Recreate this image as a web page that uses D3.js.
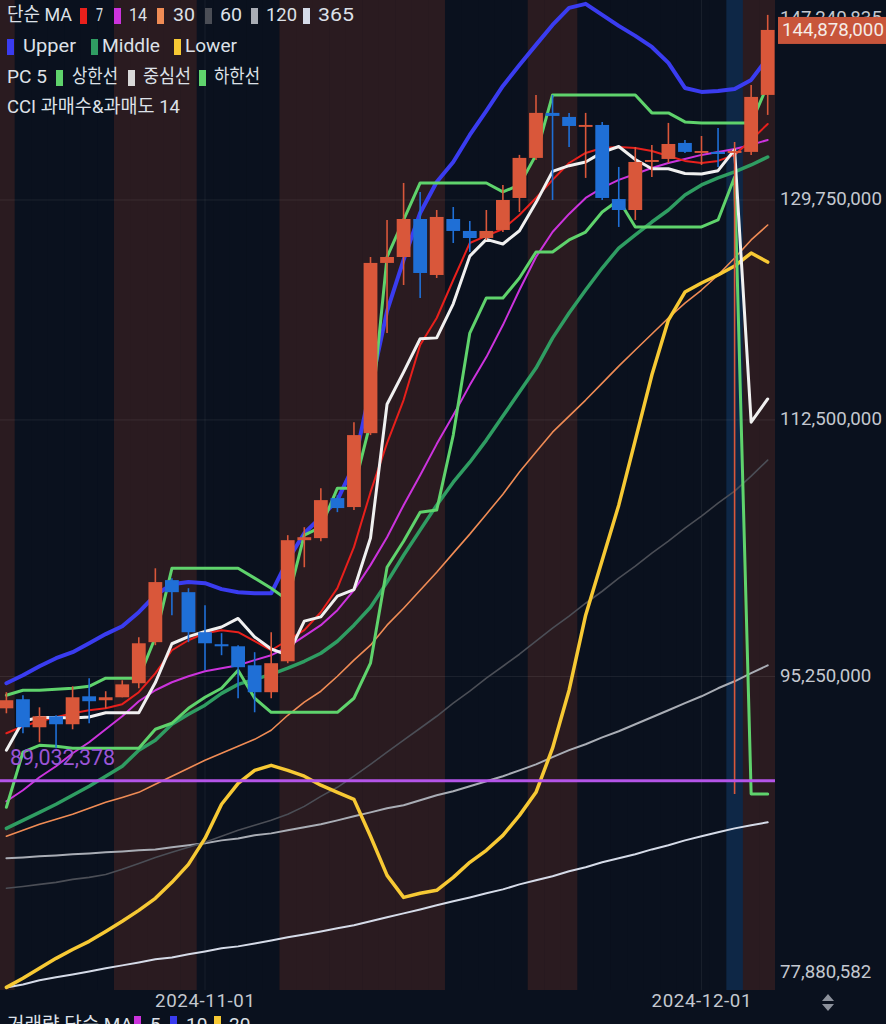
<!DOCTYPE html>
<html><head><meta charset="utf-8">
<script src="https://cdn.jsdelivr.net/npm/d3@7"></script>
<style>
html,body{margin:0;padding:0;background:#0a111e;}
svg{display:block;}
text{font-family:Roboto,"Noto Sans CJK KR",sans-serif;}
</style></head><body>
<svg id="c" width="886" height="1024"></svg>
<script>
// ---- data (prices in millions of KRW) ----
const dates = ["2024-10-20","2024-10-21","2024-10-22","2024-10-23","2024-10-24","2024-10-25","2024-10-26","2024-10-27","2024-10-28","2024-10-29","2024-10-30","2024-10-31","2024-11-01","2024-11-02","2024-11-03","2024-11-04","2024-11-05","2024-11-06","2024-11-07","2024-11-08","2024-11-09","2024-11-10","2024-11-11","2024-11-12","2024-11-13","2024-11-14","2024-11-15","2024-11-16","2024-11-17","2024-11-18","2024-11-19","2024-11-20","2024-11-21","2024-11-22","2024-11-23","2024-11-24","2024-11-25","2024-11-26","2024-11-27","2024-11-28","2024-11-29","2024-11-30","2024-12-01","2024-12-02","2024-12-03","2024-12-04","2024-12-05"];
const open  = [93.31,93.86,92.17,92.83,92.35,94.04,93.80,93.98,94.84,97.40,101.40,100.61,98.03,97.27,97.14,95.95,94.29,96.20,104.06,104.20,106.94,106.32,111.54,124.56,125.04,128.16,123.59,128.16,127.17,126.59,127.25,129.92,133.34,137.29,136.93,136.05,136.22,129.83,128.91,132.99,133.25,134.64,133.77,133.86,133.77,133.86,138.90];
const high  = [94.29,94.10,93.37,92.89,94.65,95.15,94.35,95.02,97.71,102.18,101.53,100.87,99.76,97.97,97.21,96.77,98.03,104.40,104.94,107.63,107.14,112.34,125.04,128.08,131.19,130.43,128.91,129.16,128.00,128.91,131.02,133.60,138.90,138.90,137.29,137.29,136.49,132.56,134.29,134.47,136.40,134.90,135.25,135.96,134.73,139.80,146.30];
const low   = [93.01,91.81,91.28,90.93,92.05,92.41,93.31,93.98,94.53,97.21,99.12,97.40,95.64,96.58,93.92,93.07,93.92,96.08,102.25,103.99,105.97,106.11,111.40,119.02,122.79,121.76,123.35,126.18,125.45,126.43,127.08,128.74,133.16,129.75,134.29,131.62,129.75,127.50,128.08,131.70,132.90,133.77,132.73,132.56,88.27,133.60,137.11];
const close = [93.80,92.17,92.83,92.35,93.98,93.74,93.98,94.77,97.33,101.27,100.61,98.03,97.33,97.14,95.83,94.29,96.08,104.06,104.26,106.80,106.25,111.40,124.56,125.04,128.16,123.75,128.33,127.17,126.59,127.17,129.75,133.34,137.29,137.02,136.13,136.22,129.92,128.91,132.99,133.16,134.55,133.86,133.94,133.68,133.94,138.72,144.878];

const ma7   = [91.81,92.23,92.53,92.77,93.01,93.19,93.31,93.56,94.29,95.45,96.89,97.52,97.97,98.16,98.03,97.46,96.89,97.52,98.16,99.31,100.87,103.59,107.35,110.82,113.96,118.10,120.19,123.19,126.18,126.76,127.33,128.49,129.92,131.45,132.90,133.77,134.20,134.29,134.20,133.94,133.51,133.08,132.90,133.08,133.60,134.90,136.31];
const ma14  = [87.85,88.48,89.23,89.87,90.63,91.28,92.05,92.83,93.74,94.41,94.90,95.27,95.58,95.77,95.95,96.27,96.58,97.08,97.78,98.48,99.44,100.74,102.39,104.26,106.45,108.54,110.75,112.85,115.07,117.18,119.64,122.39,125.04,127.08,128.58,129.92,130.77,131.45,131.96,132.47,132.90,133.25,133.60,133.86,134.12,134.47,134.90];
const ma30  = [85.88,86.21,86.55,86.83,87.11,87.45,87.79,88.07,88.36,88.82,89.29,89.75,90.22,90.63,91.04,91.45,91.99,92.89,93.68,94.35,95.27,96.27,97.21,98.48,99.57,100.74,101.92,103.19,104.47,105.83,107.21,108.76,110.18,111.61,112.78,113.96,115.22,116.50,117.72,118.95,120.19,121.36,122.39,123.59,124.96,126.43,127.66];
const ma60  = [83.03,83.13,83.24,83.35,83.51,83.62,83.78,84.06,84.38,84.71,84.99,85.27,85.54,85.88,86.21,86.49,86.77,87.11,87.56,88.13,88.65,89.29,89.98,90.69,91.40,92.11,92.83,93.62,94.35,95.15,95.89,96.64,97.46,98.29,99.06,99.89,100.67,101.53,102.32,103.19,103.99,104.87,105.69,106.59,107.42,108.47,109.61];
const ma120 = [84.66,84.71,84.77,84.82,84.88,84.93,84.99,85.04,85.10,85.15,85.27,85.38,85.49,85.65,85.76,85.93,86.04,86.21,86.38,86.55,86.77,87.00,87.22,87.45,87.62,87.91,88.19,88.42,88.71,89.00,89.29,89.63,89.98,90.40,90.81,91.16,91.57,91.93,92.35,92.77,93.19,93.62,94.04,94.53,94.96,95.46,95.95];
const ma365 = [77.86,78.01,78.22,78.37,78.52,78.67,78.83,78.98,79.13,79.29,79.39,79.55,79.70,79.86,79.96,80.11,80.27,80.43,80.58,80.74,80.90,81.06,81.27,81.48,81.69,81.90,82.12,82.33,82.54,82.76,82.97,83.24,83.46,83.68,83.95,84.17,84.44,84.66,84.88,85.15,85.38,85.65,85.88,86.10,86.32,86.49,86.66];

const bbUpper  = [94.84,95.33,95.89,96.39,96.77,97.33,97.91,98.41,99.31,100.41,101.13,101.27,101.20,100.81,100.61,100.54,100.54,102.72,104.53,105.63,106.80,109.25,114.85,120.73,124.80,128.66,131.27,132.99,135.34,137.46,139.71,141.63,143.48,145.35,146.97,147.35,146.30,145.26,144.32,143.29,141.82,139.53,139.17,139.26,139.44,140.26,142.27];
const bbMiddle = [86.32,86.77,87.22,87.68,88.19,88.71,89.29,89.87,90.81,91.40,92.35,92.95,93.50,94.22,94.77,95.08,95.39,95.77,96.20,96.70,97.46,98.48,99.63,101.27,103.05,104.74,106.45,108.05,109.46,111.04,112.78,114.55,116.35,118.63,120.58,122.39,124.15,125.77,126.84,127.91,128.91,130.17,131.02,131.62,132.13,132.73,133.42];
const bbLower  = [77.86,78.32,78.83,79.34,79.80,80.22,80.74,81.27,81.85,82.49,83.35,84.33,85.76,87.68,88.88,89.63,89.92,89.63,89.29,88.77,88.36,87.96,85.88,83.73,82.54,82.76,82.92,83.62,84.44,85.10,85.93,87.05,88.36,90.93,94.41,99.12,102.72,106.45,111.04,115.82,120.03,122.23,122.95,123.59,124.31,125.36,124.63];

const pcUpper  = [94.10,94.41,94.41,94.47,94.53,94.65,95.15,95.15,95.15,97.71,102.18,102.18,102.18,102.18,102.18,101.53,100.87,100.09,104.40,104.94,107.63,107.63,112.34,125.04,128.08,131.19,131.19,131.19,131.19,131.19,130.43,131.02,133.60,138.90,138.90,138.90,138.90,138.90,138.90,137.29,137.29,136.49,136.40,136.40,136.40,136.40,139.80];
const pcMiddle = [90.81,92.55,92.76,92.76,92.73,92.79,93.04,93.04,93.04,94.88,97.30,97.75,98.08,98.36,98.91,97.73,96.97,96.58,98.74,99.01,100.35,100.78,104.21,113.65,116.04,118.58,118.65,121.30,125.11,126.48,126.10,127.19,129.53,132.18,132.67,132.99,133.82,134.33,133.20,132.40,132.40,132.00,131.95,132.24,134.05,112.34,114.04];
const pcLower  = [87.51,90.69,91.10,91.04,90.93,90.93,90.93,90.93,90.93,92.05,92.41,93.31,93.98,94.53,95.64,93.92,93.07,93.07,93.07,93.07,93.07,93.92,96.08,102.25,103.99,105.97,106.11,111.40,119.02,121.76,121.76,123.35,125.45,125.45,126.43,127.08,128.74,129.75,127.50,127.50,127.50,127.50,127.50,128.08,131.70,88.27,88.27];

// CCI(14) state per candle: ob = overbought, os = oversold, n = neutral
const cciZone = ["ob","n","n","n","n","n","n","ob","ob","ob","ob","ob","n","n","n","n","n","ob","ob","ob","ob","ob","ob","ob","ob","ob","ob","n","n","n","n","n","ob","ob","ob","n","n","n","n","n","n","n","n","n","os","ob","ob"];

const yTicks = [147240835, 129750000, 112500000, 95250000, 77880582];
const xTickLabels = ["2024-11-01", "2024-12-01"];
const lastPrice = 144878000;
const markLine = 89032378;

// ---- layout ----
const M = 1e6;
const W = 886, H = 1024, plotR = 775, plotB = 990;
const parse = d3.utcParse("%Y-%m-%d");
const D = dates.map(parse);
const x = d3.scaleUtc().domain([D[0], D[D.length-1]]).range([6.4, 767.7]);
const step = x(D[1]) - x(D[0]);
const y = d3.scaleLog().domain([yTicks[4], yTicks[0]]).range([987, 5]);
const fmt = d3.format(",");
const axisFont = 18.7;

const svg = d3.select("#c");
svg.append("rect").attr("width", W).attr("height", H).attr("fill", "#0a111e");
const defs = svg.append("defs");
defs.append("clipPath").attr("id","plot").append("rect").attr("x",0).attr("y",0).attr("width",plotR).attr("height",plotB);
const g = svg.append("g").attr("clip-path","url(#plot)");

// CCI background stripes
const zoneCol = {ob:"#2a1b20", n:"#0a111e", os:"#0e2746"};
g.selectAll("rect.z").data(cciZone).join("rect").attr("class","z")
  .attr("x",(d,i)=>x(D[i])-step/2).attr("y",0).attr("width",step+0.5).attr("height",plotB)
  .attr("fill",d=>zoneCol[d]);

// grid
g.selectAll("line.hg").data(yTicks.slice(1,4)).join("line").attr("class","hg")
  .attr("x1",0).attr("x2",plotR).attr("y1",d=>y(d)).attr("y2",d=>y(d))
  .attr("stroke","#ffffff").attr("stroke-opacity",0.08).attr("stroke-width",1);
g.selectAll("line.vg").data(xTickLabels).join("line").attr("class","vg")
  .attr("x1",d=>x(parse(d))).attr("x2",d=>x(parse(d))).attr("y1",0).attr("y2",plotB)
  .attr("stroke","#ffffff").attr("stroke-opacity",0.06).attr("stroke-width",1);

// indicator lines
const line = d3.line().x((d,i)=>x(D[i])).y(d=>y(d*M));
const series = [
  {v:ma365, c:"#d5dbe8", w:2},
  {v:ma120, c:"#a9adb5", w:2},
  {v:ma60,  c:"#4b4e56", w:1.6},
  {v:ma30,  c:"#f08c55", w:1.6},
  {v:ma14,  c:"#cc33dd", w:2},
  {v:ma7,   c:"#e8201c", w:2},
  {v:bbLower,  c:"#f7c934", w:3.5},
  {v:bbMiddle, c:"#2f9d62", w:3.5},
  {v:bbUpper,  c:"#3a3cf0", w:4},
  {v:pcLower,  c:"#5fd36c", w:3},
  {v:pcUpper,  c:"#5fd36c", w:3},
  {v:pcMiddle, c:"#f0f0f0", w:3}
];
g.selectAll("path.s").data(series).join("path").attr("class","s")
  .attr("d",d=>line(d.v)).attr("fill","none").attr("stroke",d=>d.c)
  .attr("stroke-width",d=>d.w).attr("stroke-linejoin","round").attr("stroke-linecap","round");

// candles
const upC = "#d9573a", dnC = "#1f6fd6";
const cg = g.selectAll("g.cd").data(D).join("g").attr("class","cd");
cg.append("line").attr("x1",(d,i)=>x(d)).attr("x2",(d,i)=>x(d))
  .attr("y1",(d,i)=>y(high[i]*M)).attr("y2",(d,i)=>y(low[i]*M))
  .attr("stroke",(d,i)=>close[i]>=open[i]?upC:dnC).attr("stroke-width",1.6);
cg.append("rect").attr("x",d=>x(d)-6.9).attr("width",13.8)
  .attr("y",(d,i)=>y(Math.max(open[i],close[i])*M))
  .attr("height",(d,i)=>Math.max(1.6, Math.abs(y(open[i]*M)-y(close[i]*M))))
  .attr("fill",(d,i)=>close[i]>=open[i]?upC:dnC);

// horizontal mark line
g.append("line").attr("x1",0).attr("x2",plotR).attr("y1",y(markLine)).attr("y2",y(markLine))
  .attr("stroke","#b455e8").attr("stroke-width",3);
g.append("text").attr("x",10).attr("y",y(markLine)-21).attr("fill","#9b55d6")
  .attr("font-size",21.5).attr("dominant-baseline","middle").text(fmt(markLine));

// right axis
svg.selectAll("text.yt").data(yTicks).join("text").attr("class","yt")
  .attr("x",780).attr("y",d=>Math.min(973, Math.max(19, y(d))))
  .attr("dominant-baseline","middle").attr("font-size",axisFont).attr("fill","#c4c8d0")
  .text(d=>fmt(d));
svg.append("rect").attr("x",778).attr("y",y(lastPrice)-13).attr("width",108).attr("height",27).attr("fill","#c8553b");
svg.append("text").attr("x",782).attr("y",y(lastPrice)+1).attr("dominant-baseline","middle")
  .attr("font-size",axisFont).attr("fill","#f5ece8").text(fmt(lastPrice));

// x axis
svg.selectAll("text.xt").data(xTickLabels).join("text").attr("class","xt")
  .attr("x",d=>x(parse(d))).attr("y",1002).attr("text-anchor","middle").attr("dominant-baseline","middle")
  .attr("font-size",axisFont).attr("fill","#c4c8d0").attr("textLength",100).attr("lengthAdjust","spacing").text(d=>d);
// scale arrows icon
svg.append("path").attr("d","M828,994 L834,1001 L822,1001 Z M822,1004 L834,1004 L828,1011 Z").attr("fill","#8c919b");

// legend (swatch x, text x, text width)
const legend = [
  {y:16, items:[{tx:7,tw:65,t:"단순 MA"},{sx:80,c:"#e8201c",tx:96,tw:7,t:"7"},{sx:114,c:"#cc33dd",tx:129,tw:18,t:"14"},{sx:157,c:"#f08c55",tx:173,tw:22,t:"30"},{sx:205,c:"#4b4e56",tx:220,tw:22,t:"60"},{sx:251,c:"#a9adb5",tx:266,tw:31,t:"120"},{sx:303,c:"#d5dbe8",tx:318,tw:36,t:"365"}]},
  {y:47, items:[{sx:7,c:"#3a3cf0",tx:23,tw:53,t:"Upper"},{sx:91,c:"#2f9d62",tx:102,tw:58,t:"Middle"},{sx:174,c:"#f7c934",tx:185,tw:52,t:"Lower"}]},
  {y:78, items:[{tx:7,tw:40,t:"PC 5"},{sx:56,c:"#5fd36c",tx:72,tw:46,t:"상한선"},{sx:128,c:"#d8d8d8",tx:143,tw:48,t:"중심선"},{sx:199,c:"#5fd36c",tx:214,tw:46,t:"하한선"}]},
  {y:108, items:[{tx:7,tw:173,t:"CCI 과매수&과매도 14"}]}
];
legend.forEach(row=>{
  row.items.forEach(it=>{
    if(it.c) svg.append("rect").attr("x",it.sx).attr("y",row.y-8).attr("width",7).attr("height",16).attr("fill",it.c);
    svg.append("text").attr("x",it.tx).attr("y",row.y).attr("dominant-baseline","middle")
      .attr("font-size",19).attr("fill","#dde1e8").attr("textLength",it.tw).attr("lengthAdjust","spacingAndGlyphs").text(it.t);
  });
});

// lower (volume) pane header, cut off by the bottom edge
const volLegend = [{tx:7,t:"거래량 단순 MA"},{sx:134,c:"#cc33dd",tx:150,t:"5"},{sx:170,c:"#3a3cf0",tx:186,t:"10"},{sx:214,c:"#f7c934",tx:229,t:"20"}];
volLegend.forEach(it=>{
  if(it.c) svg.append("rect").attr("x",it.sx).attr("y",1016).attr("width",7).attr("height",16).attr("fill",it.c);
  svg.append("text").attr("x",it.tx).attr("y",1031).attr("font-size",19).attr("fill","#dde1e8").text(it.t);
});
</script></body></html>
